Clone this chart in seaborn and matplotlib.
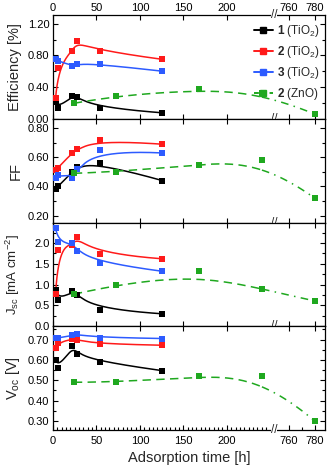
import numpy as np
import matplotlib
matplotlib.use("Agg")
import matplotlib.pyplot as plt
from matplotlib.lines import Line2D
from matplotlib.ticker import FixedLocator, MultipleLocator, FormatStrFormatter
import matplotlib.transforms as mtransforms
import seaborn as sns

# Data
hours_tio2 = [3, 6, 22, 28, 54, 126]
hours_zno = [24, 72, 168, 240, 780]

eff_1 = [0.21, 0.14, 0.29, 0.27, 0.135, 0.075]
eff_2 = [0.26, 0.645, 0.855, 0.98, 0.855, 0.75]
eff_3 = [0.75, 0.73, 0.665, 0.69, 0.69, 0.60]
eff_zno = [0.195, 0.29, 0.38, 0.33, 0.06]

ff_1 = [0.385, 0.40, 0.50, 0.535, 0.56, 0.44]
ff_2 = [0.51, 0.53, 0.63, 0.655, 0.72, 0.69]
ff_3 = [0.455, 0.48, 0.46, 0.52, 0.65, 0.63]
ff_zno = [0.49, 0.50, 0.55, 0.58, 0.32]

jsc_1 = [0.87, 0.64, 0.85, 0.74, 0.40, 0.30]
jsc_2 = [0.78, 1.83, 1.95, 2.15, 1.73, 1.62]
jsc_3 = [2.35, 2.03, 2.00, 1.81, 1.52, 1.32]
jsc_zno = [0.77, 0.99, 1.32, 0.89, 0.61]

voc_1 = [0.60, 0.56, 0.67, 0.63, 0.59, 0.547]
voc_2 = [0.657, 0.685, 0.703, 0.698, 0.678, 0.672]
voc_3 = [0.706, 0.708, 0.72, 0.726, 0.71, 0.705]
voc_zno = [0.49, 0.49, 0.52, 0.52, 0.30]

labels = [r"$\mathbf{1}$ (TiO$_2$)", r"$\mathbf{2}$ (TiO$_2$)",
          r"$\mathbf{3}$ (TiO$_2$)", r"$\mathbf{2}$ (ZnO)"]
colors = ["#000000", "#ff1a1a", "#2d5bff", "#1fa81f"]

xticks_major = [0, 50, 100, 150, 200, 760, 780]

# broken x axis: 0-252 | gap | 750-788
B1, GAP, R0, K = 252.0, 4.0, 750.0, 1.5


def fwd(x):
    x = np.asarray(x, dtype=float)
    return np.where(x <= B1, x,
                    np.where(x < R0, B1 + (x - B1) / (R0 - B1) * GAP,
                             B1 + GAP + (x - R0) * K))


def inv(y):
    y = np.asarray(y, dtype=float)
    return np.where(y <= B1, y,
                    np.where(y < B1 + GAP, B1 + (y - B1) / GAP * (R0 - B1),
                             R0 + (y - B1 - GAP) / K))


def bspline(px, py, n=300, k=3):
    # clamped B-spline, points used as control points (Origin style)
    P = np.column_stack([px, py]).astype(float)
    m = len(P)
    k = min(k, m - 1)
    knots = np.concatenate([np.zeros(k), np.linspace(0, 1, m - k + 1), np.ones(k)])
    t = np.linspace(0, 1 - 1e-9, n)
    N = np.array([((knots[i] <= t) & (t < knots[i + 1])).astype(float)
                  for i in range(len(knots) - 1)])
    for d in range(1, k + 1):
        Nn = np.zeros((len(knots) - 1 - d, len(t)))
        for i in range(len(knots) - 1 - d):
            a = knots[i + d] - knots[i]
            b = knots[i + d + 1] - knots[i + 1]
            left = (t - knots[i]) / a * N[i] if a > 0 else 0
            right = (knots[i + d + 1] - t) / b * N[i + 1] if b > 0 else 0
            Nn[i] = left + right
        N = Nn
    c = N.T @ P
    c = np.vstack([c, P[-1]])
    return c[:, 0], c[:, 1]


sns.set_theme(style="ticks")
plt.rcParams["font.family"] = ["Liberation Sans", "DejaVu Sans"]
plt.rcParams["mathtext.fontset"] = "custom"
plt.rcParams["mathtext.rm"] = "Liberation Sans"
plt.rcParams["mathtext.it"] = "Liberation Sans:italic"
plt.rcParams["mathtext.bf"] = "Liberation Sans:bold"

fig, axes = plt.subplots(4, 1, sharex=True, figsize=(3.31, 4.68), dpi=100)
fig.subplots_adjust(left=0.160, right=0.982, top=0.968, bottom=0.081, hspace=0)

panels = [
    (axes[0], [eff_1, eff_2, eff_3], eff_zno, "Efficiency [%]", (0, 1.31), 0.4, 0.2, "%.2f", 10.5),
    (axes[1], [ff_1, ff_2, ff_3], ff_zno, "FF", (0.152, 0.865), 0.2, 0.1, "%.2f", 10.5),
    (axes[2], [jsc_1, jsc_2, jsc_3], jsc_zno,
     r"J$_{\mathrm{sc}}$ [mA cm$^{-2}$]", (0, 2.49), 0.5, 0.25, "%.1f", 9.5),
    (axes[3], [voc_1, voc_2, voc_3], voc_zno, r"V$_{\mathrm{oc}}$ [V]", (0.255, 0.765), 0.1, 0.05, "%.2f", 10.5),
]

lw = 1.1
ms = 4.3
for ax, tio2, zno, ylabel, ylim, major, minor, fmt, lfs in panels:
    ax.set_xscale("function", functions=(fwd, inv))
    for vals, c in zip(tio2, colors[:3]):
        cx, cy = bspline(hours_tio2, vals)
        sns.lineplot(x=cx, y=cy, sort=False, estimator=None, color=c, lw=lw, ax=ax)
        sns.scatterplot(x=hours_tio2, y=vals, marker="s", color=c, s=ms ** 2,
                        edgecolor=c, linewidth=0, ax=ax, zorder=3)
    # ZnO curve is smoothed in the (broken) display space
    tx, ty = bspline(fwd(hours_zno), zno)
    cut = fwd(hours_zno[3])
    sel = tx <= cut
    ax.plot(inv(tx[sel]), ty[sel], color=colors[3], lw=lw, ls=(0, (5.5, 3.5)))
    sel2 = tx >= cut
    ax.plot(inv(tx[sel2]), ty[sel2], color=colors[3], lw=lw, ls=(0, (5, 3.5, 1, 3.5)))
    sns.scatterplot(x=hours_zno, y=zno, marker="s", color=colors[3], s=ms ** 2,
                    edgecolor=colors[3], linewidth=0, ax=ax, zorder=3)

    ax.set_ylim(*ylim)
    ax.yaxis.set_major_locator(MultipleLocator(major))
    ax.yaxis.set_minor_locator(MultipleLocator(minor))
    ax.yaxis.set_major_formatter(FormatStrFormatter(fmt))
    ax.set_ylabel(ylabel, fontsize=lfs)
    ax.yaxis.set_label_coords(-0.112, 0.5)
    ax.tick_params(axis="both", which="both", direction="in", top=True, right=True,
                   labelsize=8, width=0.8, colors="black", pad=2.5)
    ax.tick_params(which="major", length=3.5)
    ax.tick_params(which="minor", length=2)
    ax.tick_params(axis="x", which="both", labelbottom=False, labeltop=False)
    for s in ax.spines.values():
        s.set_linewidth(0.9)
        s.set_color("black")
    ax.set_xlabel("")

ax = axes[0]
ax.set_xlim(0, 788)
ax.xaxis.set_major_locator(FixedLocator(xticks_major))
ax.xaxis.set_major_formatter(FormatStrFormatter("%d"))
axes[0].tick_params(axis="x", labeltop=True, pad=1.5)
axes[3].tick_params(axis="x", labelbottom=True, pad=4)
minor_x = [v for v in range(5, 250, 5) if v % 50 != 0] + [770]
axes[3].xaxis.set_minor_locator(FixedLocator(minor_x))
for a in axes[:3]:
    a.tick_params(axis="x", which="minor", length=0)
axes[3].tick_params(axis="x", which="minor", top=False)
axes[3].set_xlabel("Adsorption time [h]", fontsize=10.5, labelpad=4)

# break marks on every spine boundary
brk = (B1 + R0) / 2
for i, a in enumerate(axes):
    tr = mtransforms.blended_transform_factory(a.transData, a.transAxes)
    ys = [0, 1] if i == 0 else [0]
    for yy in ys:
        a.text(brk, yy, "//", transform=tr, ha="center", va="center", fontsize=8.5,
               clip_on=False, zorder=5,
               bbox=dict(facecolor="white", edgecolor="none", pad=0.0))

handles = []
for i, c in enumerate(colors):
    handles.append(Line2D([0], [0], color=c, lw=1.4, marker="s", ms=4.5,
                          ls="-" if i < 3 else (0, (2.5, 1.5))))
axes[0].legend(handles, labels, loc="upper right", frameon=False, fontsize=8.5,
               handlelength=1.6, handletextpad=0.4, labelspacing=0.42,
               borderaxespad=0.0, bbox_to_anchor=(1.0, 0.965))

fig.savefig("out.png", dpi=100)
